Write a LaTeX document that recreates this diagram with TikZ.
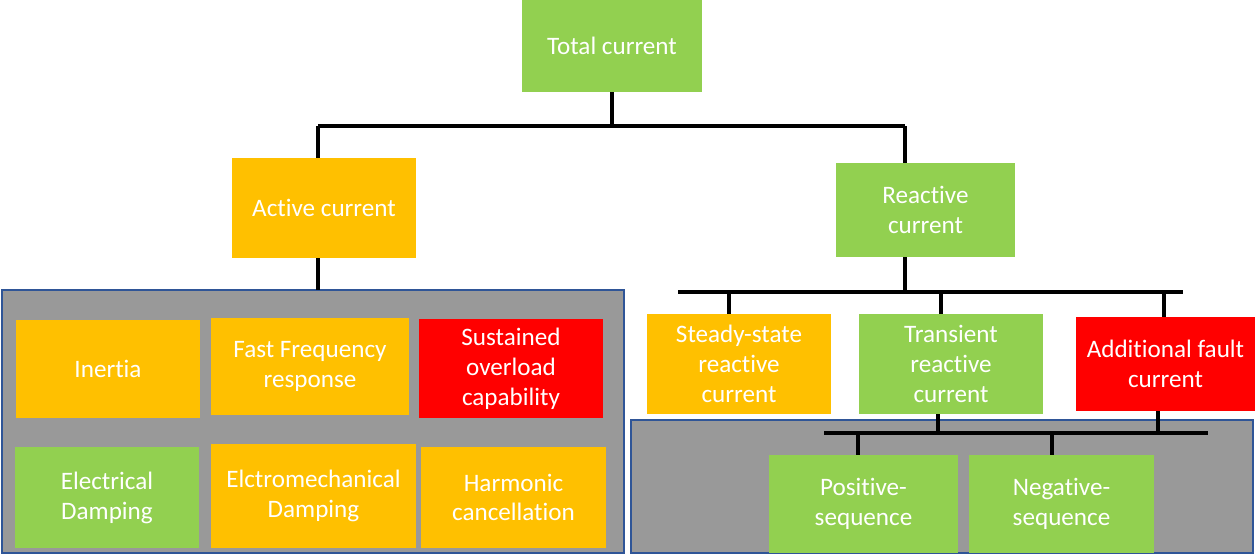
\documentclass[tikz,border=0pt]{standalone}
\usepackage{fontspec}
\setmainfont[Ligatures=NoCommon]{Carlito}
\usetikzlibrary{positioning,calc}
\definecolor{leafgreen}{HTML}{92D050}
\definecolor{amber}{HTML}{FFC000}
\definecolor{alarmred}{HTML}{FF0000}
\definecolor{panelgray}{HTML}{999999}
\definecolor{panelblue}{HTML}{2F5597}

\begin{document}
\begin{tikzpicture}[x=0.02cm, y=-0.02cm,
        box/.style={rectangle, text=white, align=center, inner sep=2pt,
            font=\fontsize{14.3}{17}\selectfont},
        bus/.style={line width=2.4pt, black},
        panel/.style={fill=panelgray, draw=panelblue, line width=0.8pt}]
        \useasboundingbox (0,0) rectangle (1255,556);

        % Grey panels
        \draw[panel] (2,290) rectangle (624,553);
        \draw[panel] (631,420) rectangle (1253,553);

        % Top level
        \node[box, fill=leafgreen, minimum width=3.6cm, minimum height=1.84cm] (total) at (612,46) {Total current};
        \node[box, fill=amber, minimum width=3.68cm, minimum height=2cm] (active) at (324,208) {Active current};
        \node[box, fill=leafgreen, minimum width=3.58cm, minimum height=1.88cm] (reactive) at (925.5,210) {Reactive\\current};

        % Active current services
        \node[box, fill=amber, minimum width=3.68cm, minimum height=1.96cm] (inertia) at (108,369) {Inertia};
        \node[box, fill=amber, minimum width=3.96cm, minimum height=1.94cm] (ffr) at (310,366.5) {Fast Frequency\\response};
        \node[box, fill=alarmred, minimum width=3.68cm, minimum height=1.98cm] (overload) at (511,368.5) {Sustained\\overload\\capability};
        \node[box, fill=leafgreen, minimum width=3.68cm, minimum height=2.02cm] (elecdamp) at (107,497.5) {Electrical\\Damping};
        \node[box, fill=amber, minimum width=4.1cm, minimum height=2.08cm] (emdamp) at (313.5,496) {Elctromechanical\\Damping};
        \node[box, fill=amber, minimum width=3.7cm, minimum height=2.02cm] (harmonic) at (513.5,497.5) {Harmonic\\cancellation};

        % Reactive current services
        \node[box, fill=amber, minimum width=3.68cm, minimum height=2cm] (steady) at (739,364) {Steady-state\\reactive\\current};
        \node[box, fill=leafgreen, minimum width=3.68cm, minimum height=2cm] (transient) at (951,364) {Transient\\reactive\\current};
        \node[box, fill=alarmred, minimum width=3.58cm, minimum height=1.88cm] (fault) at (1165.5,364) {Additional fault\\current};
        \node[box, fill=leafgreen, minimum width=3.78cm, minimum height=1.96cm] (positive) at (863.5,504) {Positive-\\sequence};
        \node[box, fill=leafgreen, minimum width=3.7cm, minimum height=1.96cm] (negative) at (1061.5,504) {Negative-\\sequence};

        % Bus points
        \coordinate (topbus) at (612,126);
        \coordinate (topbusL) at (318,126);
        \coordinate (topbusR) at (905,126);
        \coordinate (actdrop) at (318,290);
        \coordinate (rbusL) at (678,292);
        \coordinate (rbusR) at (1183,292);
        \coordinate (lowbusL) at (824,433);
        \coordinate (lowbusR) at (1208,433);

        % Connectors
        \draw[bus] (total.south) -- (topbus);
        \draw[bus] (topbusL) -- (topbusR);
        \draw[bus] (topbusL) -- (topbusL |- active.north);
        \draw[bus] (topbusR) -- (topbusR |- reactive.north);
        \draw[bus] (actdrop |- active.south) -- (actdrop);

        \draw[bus] (rbusL) -- (rbusR);
        \draw[bus] (topbusR |- reactive.south) -- (topbusR |- rbusL);
        \foreach \x/\n in {729/steady, 941/transient, 1164/fault} {
            \draw[bus] (\x,292) -- (\x,292 |- \n.north);
        }

        \draw[bus] (lowbusL) -- (lowbusR);
        \draw[bus] (938,433 |- transient.south) -- (938,433);
        \draw[bus] (1158,433 |- fault.south) -- (1158,433);
        \foreach \x/\n in {858/positive, 1052/negative} {
            \draw[bus] (\x,433) -- (\x,433 |- \n.north);
        }
    \end{tikzpicture}
\end{document}
